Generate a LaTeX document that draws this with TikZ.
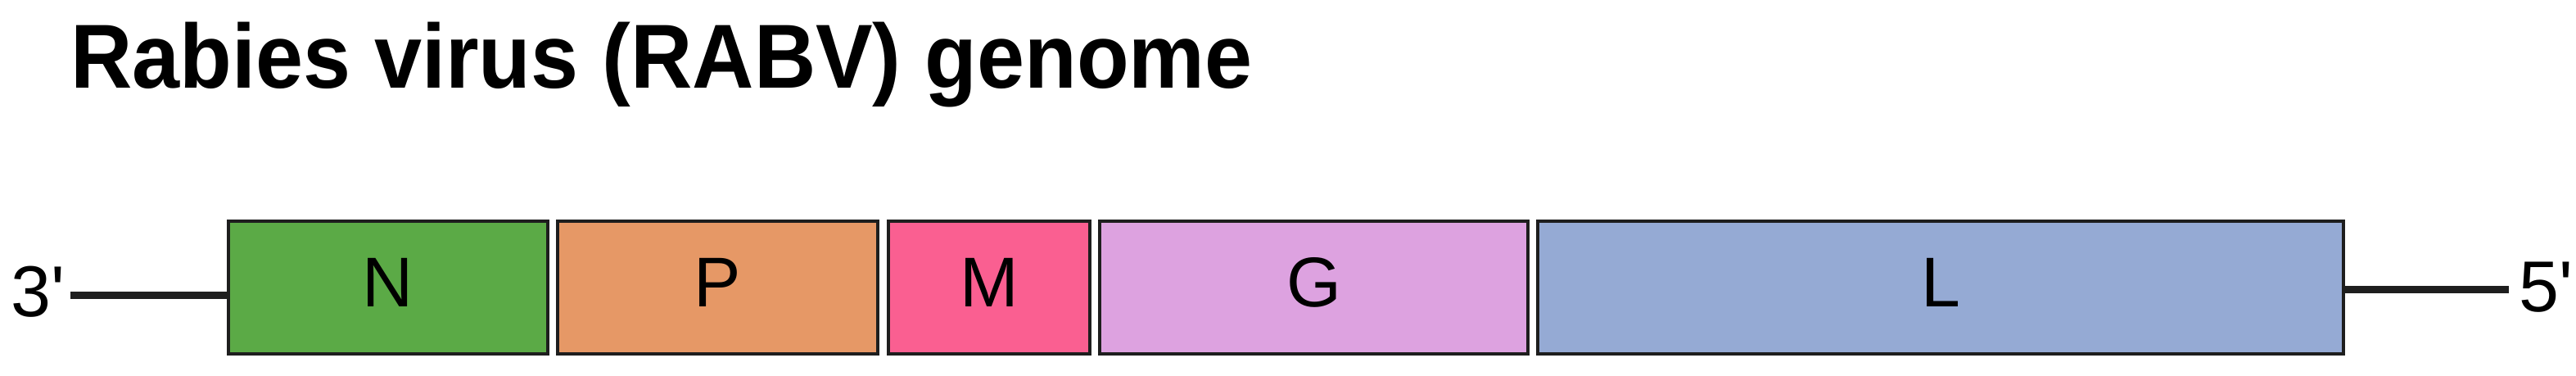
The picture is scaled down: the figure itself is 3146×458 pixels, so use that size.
\documentclass[tikz,border=0pt]{standalone}
\usepackage{fontspec}
\setmainfont{Liberation Sans}
\usetikzlibrary{calc}
\definecolor{cN}{RGB}{91,170,70}
\definecolor{cP}{RGB}{230,152,102}
\definecolor{cM}{RGB}{250,95,145}
\definecolor{cG}{RGB}{221,162,224}
\definecolor{cL}{RGB}{149,170,212}
\definecolor{ink}{RGB}{30,30,30}
\begin{document}
\begin{tikzpicture}[x=1pt,y=-1pt,
  gene/.style={draw=ink,line width=4.5pt,rectangle,inner sep=0pt,
    minimum height=162pt,text height=61.6pt,text depth=15pt,
    font=\fontsize{86}{90}\selectfont},
  strand/.style={draw=ink,line width=9pt},
  endlab/.style={anchor=base west,inner sep=0pt,font=\fontsize{88}{92}\selectfont}]
\useasboundingbox (0,0) rectangle (3146,458);
\node[anchor=base west,inner sep=0pt,font=\bfseries\fontsize{111}{120}\selectfont] (title) at (86,107) {\scalebox{0.94}[1]{Rabies virus (RABV) genome}};
\node[gene,fill=cN,minimum width=390pt] (N) at (474,351) {N};
\node[gene,fill=cP,minimum width=391pt] (P) at (876.5,351) {P};
\node[gene,fill=cM,minimum width=246pt] (M) at (1208,351) {M};
\node[gene,fill=cG,minimum width=523pt] (G) at (1604.5,351) {G};
\node[gene,fill=cL,minimum width=984pt] (L) at (2370,351) {L};
\coordinate (a3) at (86,360);
\coordinate (a5) at (3064,353);
\draw[strand] (a3) -- (a3 -| N.west);
\draw[strand] (a5 -| L.east) -- (a5);
\node[endlab] (t3) at (13,386) {3\textquotesingle};
\node[endlab] (t5) at (3076,380) {5\textquotesingle};
\end{tikzpicture}
\end{document}
